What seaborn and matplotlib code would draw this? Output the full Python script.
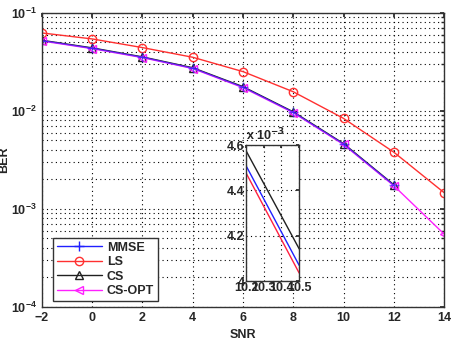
import matplotlib
matplotlib.use("Agg")
import matplotlib.pyplot as plt
import seaborn as sns
import pandas as pd
import numpy as np
from matplotlib.ticker import LogLocator, NullFormatter, MultipleLocator, FixedLocator

sns.set_theme(style="white")
plt.rcParams['font.family'] = ['Liberation Sans', 'DejaVu Sans']
plt.rcParams['font.weight'] = 'bold'
plt.rcParams['mathtext.default'] = 'bf'

# ---- data ----
snr = [-2, 0, 2, 4, 6, 8, 10, 12, 14]
ber_mmse = [0.0522, 0.0436, 0.0353, 0.0273, 0.0175, 0.0097, 0.0046, 0.00175]
ber_ls = [0.0625, 0.0543, 0.0443, 0.0353, 0.0252, 0.0157, 0.0084, 0.0038, 0.00147]
ber_cs = [0.0526, 0.0440, 0.0356, 0.0276, 0.0177, 0.0098, 0.00465, 0.00177]
ber_csopt = [0.0518, 0.0432, 0.0350, 0.0271, 0.0173, 0.0096, 0.00455, 0.00173, 0.000556]

methods = ["MMSE", "LS", "CS", "CS-OPT"]
draw_order = ["LS", "CS", "CS-OPT", "MMSE"]
colors = {"MMSE": "#2020ff", "LS": "#ff3030", "CS": "#202020", "CS-OPT": "#ff20ff"}
markers = {"MMSE": "+", "LS": "o", "CS": "^", "CS-OPT": "<"}
alphas = {"MMSE": 0.6, "LS": 1.0, "CS": 1.0, "CS-OPT": 1.0}

# inset (zoomed) data
inset_snr = [10.2, 10.5]
inset_cs = [0.004575, 0.004142]
inset_mmse = [0.004509, 0.004069]
inset_red = [0.004477, 0.004035]

series = {"MMSE": ber_mmse, "LS": ber_ls, "CS": ber_cs, "CS-OPT": ber_csopt}
rows = []
for m in methods:
    for x, y in zip(snr, series[m]):
        rows.append({"SNR": x, "BER": y, "method": m})
df = pd.DataFrame(rows)

fig = plt.figure(figsize=(4.54, 3.38), dpi=100)
ax = fig.add_axes([0.0925, 0.0917, 0.8855, 0.870])

for m in draw_order:
    sub = df[df.method == m]
    sns.lineplot(data=sub, x="SNR", y="BER", ax=ax, color=colors[m],
                 marker=markers[m], markersize=6 if m != "MMSE" else 7,
                 markerfacecolor="none", markeredgecolor=colors[m],
                 markeredgewidth=1.0, linewidth=1.0, label=m,
                 alpha=alphas[m])

ax.set_yscale("log")
ax.set_xlim(-2, 14)
ax.set_ylim(1e-4, 1e-1)
ax.xaxis.set_major_locator(MultipleLocator(2))
ax.yaxis.set_major_locator(LogLocator(base=10, numticks=10))
ax.yaxis.set_minor_locator(LogLocator(base=10, subs=np.arange(2, 10), numticks=10))
ax.yaxis.set_minor_formatter(NullFormatter())
ax.grid(True, which="major", color="black", linestyle=(0, (1, 3)), linewidth=0.8)
ax.grid(True, which="minor", axis="y", color="black", linestyle=(0, (1, 3)), linewidth=0.8)
ax.tick_params(direction="in", which="both", length=3, labelsize=9, top=True, right=True)
ax.tick_params(which="minor", length=2)
for s in ax.spines.values():
    s.set_color("#333333")
    s.set_linewidth(1.0)
ax.set_xlabel("SNR", fontsize=9, fontweight="bold", labelpad=4)
ax.set_ylabel("BER", fontsize=9, fontweight="bold", labelpad=1)

handles, labels = ax.get_legend_handles_labels()
hmap = dict(zip(labels, handles))
leg = ax.legend([hmap[m] for m in methods], methods,
                loc="lower left", bbox_to_anchor=(0.012, 0.0), fontsize=9,
                frameon=True, fancybox=False, handlelength=3.6,
                borderpad=0.3, labelspacing=0.2, handletextpad=0.4)
leg.get_frame().set_edgecolor("#333333")
leg.get_frame().set_linewidth(1.0)
leg.get_frame().set_alpha(1)
for h in leg.legend_handles:
    h.set_alpha(1.0)
for t in leg.get_texts():
    t.set_fontweight("bold")

# inset
axi = fig.add_axes([0.542, 0.1686, 0.117, 0.402])
inset_df = pd.DataFrame({
    "SNR": inset_snr * 3,
    "BER": inset_cs + inset_mmse + inset_red,
    "line": ["CS"] * 2 + ["MMSE"] * 2 + ["other"] * 2,
})
sns.lineplot(data=inset_df, x="SNR", y="BER", hue="line", ax=axi,
             palette={"CS": "#202020", "MMSE": "#2020ff", "other": "#ff2040"},
             linewidth=1.0, legend=False)
axi.set_xlim(10.2, 10.5)
axi.set_ylim(0.004, 0.0046)
axi.xaxis.set_major_locator(FixedLocator([10.2, 10.3, 10.4, 10.5]))
axi.set_xticklabels(["10.2", "10.3", "10.4", "10.5"])
axi.yaxis.set_major_locator(FixedLocator([0.004, 0.0042, 0.0044, 0.0046]))
axi.set_yticklabels(["4", "4.2", "4.4", "4.6"])
axi.grid(True, color="black", linestyle=(0, (1, 3)), linewidth=0.8)
axi.tick_params(direction="in", length=2, labelsize=9, pad=1, top=True, right=True)
axi.set_xlabel("")
axi.set_ylabel("")
for s in axi.spines.values():
    s.set_color("#333333")
    s.set_linewidth(1.0)
axi.set_facecolor("white")
axi.text(0.0, 1.01, r"x 10$^{-3}$", transform=axi.transAxes, fontsize=9,
         ha="left", va="bottom", fontweight="bold")

fig.savefig("out.png", dpi=100)
